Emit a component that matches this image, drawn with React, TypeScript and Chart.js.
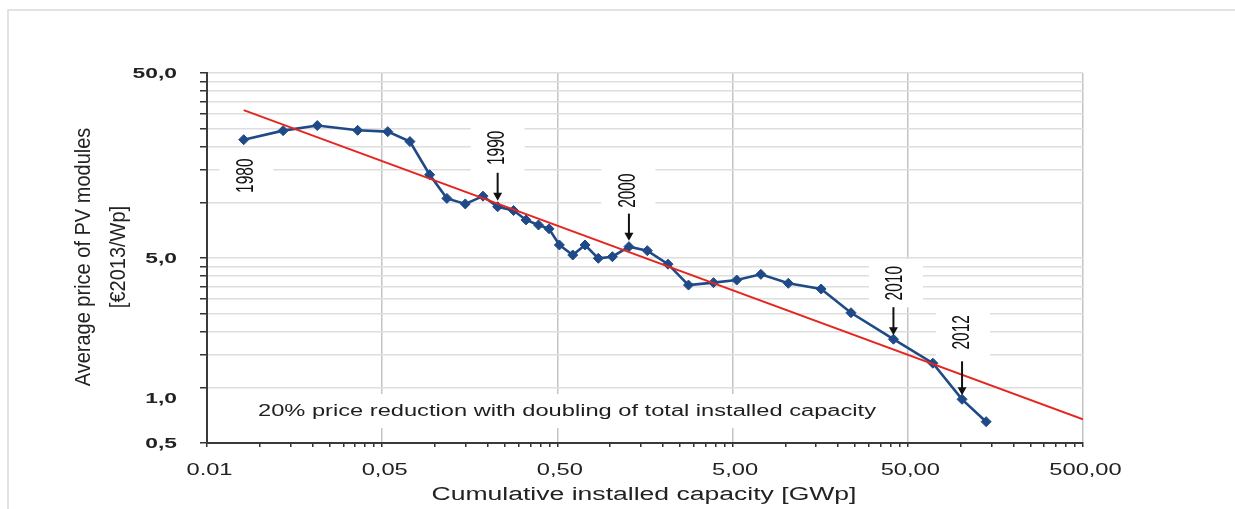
import React, { useEffect, useRef } from "react";
import { Chart, registerables } from "chart.js";

Chart.register(...registerables);

// ---------- data ----------
const years = [
  1980, 1981, 1982, 1983, 1984, 1985, 1986, 1987, 1988, 1989,
  1990, 1991, 1992, 1993, 1994, 1995, 1996, 1997, 1998, 1999,
  2000, 2001, 2002, 2003, 2004, 2005, 2006, 2007, 2008, 2009,
  2010, 2011, 2012, 2013,
];
// cumulative installed capacity [GWp]
const capacity = [
  0.0081, 0.0136, 0.0213, 0.0362, 0.0538, 0.072, 0.0933, 0.117, 0.149, 0.188,
  0.228, 0.281, 0.331, 0.39, 0.448, 0.513, 0.612, 0.719, 0.856, 1.03,
  1.28, 1.63, 2.14, 2.8, 3.89, 5.28, 7.25, 10.4, 16.0, 23.7,
  41.4, 69.5, 102, 140,
];
// average price of PV modules [€2013/Wp]
const price = [
  21.8, 24.4, 26.0, 24.5, 24.1, 21.3, 14.1, 10.5, 9.8, 10.8,
  9.46, 9.03, 8.03, 7.54, 7.19, 5.88, 5.19, 5.88, 4.98, 5.08,
  5.76, 5.48, 4.63, 3.57, 3.68, 3.8, 4.08, 3.65, 3.4, 2.53,
  1.82, 1.35, 0.861, 0.652,
];
// learning-curve trend line (end points)
const trendX = [0.0081, 500];
const trendY = [31.5, 0.672];

// axis ticks
const xGridValues = [0.005, 0.05, 0.5, 5, 50, 500];
const xTickLabels = ["0.01", "0,05", "0,50", "5,00", "50,00", "500,00"];
const yTickValues = [0.5, 1, 5, 50];
const yTickLabels = ["0,5", "1,0", "5,0", "50,0"];

const xMinorValues: number[] = [];
for (const d of [0.005, 0.05, 0.5, 5, 50]) {
  for (let k = 1; k <= 9; k++) xMinorValues.push(+(d * k).toPrecision(6));
}
xMinorValues.push(500);
const yMinorValues: number[] = [];
for (const d of [0.5, 5]) {
  for (let k = 1; k <= 9; k++) yMinorValues.push(+(d * k).toPrecision(6));
}
yMinorValues.push(50);

const xTitle = "Cumulative installed capacity [GWp]";
const yTitle = ["Average price of PV modules", "[€2013/Wp]"];
const noteText = "20% price reduction with doubling of total installed capacity";

// year annotations: label offset (px) relative to the data point, arrow span
const yearNotes = [
  { year: 1980, dx: 2.5, dy: 36, arrow: null as null | [number, number] },
  { year: 1990, dx: 0, dy: -59, arrow: [-34, -6] as [number, number] },
  { year: 2000, dx: -0.5, dy: -56, arrow: [-33, -6] as [number, number] },
  { year: 2010, dx: 2.5, dy: -56, arrow: [-32, -4] as [number, number] },
  { year: 2012, dx: 1, dy: -67, arrow: [-38, -4] as [number, number] },
];

const FONT = "'Liberation Sans', Arial, sans-serif";

function drawText(
  ctx: CanvasRenderingContext2D,
  text: string,
  x: number,
  y: number,
  o: {
    size: number;
    weight?: string;
    sx?: number;
    fit?: number;
    rotate?: boolean;
    align?: CanvasTextAlign;
    baseline?: CanvasTextBaseline;
    color?: string;
  }
) {
  ctx.save();
  ctx.font = `${o.weight || "normal"} ${o.size}px ${FONT}`;
  let s = o.sx || 1;
  if (o.fit) s = o.fit / ctx.measureText(text).width;
  ctx.translate(x, y);
  ctx.scale(s, 1);
  if (o.rotate) ctx.rotate(-Math.PI / 2);
  ctx.textAlign = o.align || "center";
  ctx.textBaseline = o.baseline || "alphabetic";
  ctx.fillStyle = o.color || "#222";
  ctx.fillText(text, 0, 0);
  ctx.restore();
}

function isDecade(v: number) {
  const r = Math.log10(v / 0.005);
  return Math.abs(r - Math.round(r)) < 1e-6;
}

const YEAR_FONT = 15.5;

const decoPlugin = {
  id: "deco",
  beforeDraw(chart: any) {
    const ctx: CanvasRenderingContext2D = chart.ctx;
    ctx.save();
    ctx.fillStyle = "#ffffff";
    ctx.fillRect(0, 0, chart.width, chart.height);
    ctx.strokeStyle = "#dadada";
    ctx.lineWidth = 1.5;
    ctx.strokeRect(8, 10, chart.width + 20, chart.height + 20);
    ctx.restore();
  },
  beforeDatasetsDraw(chart: any) {
    const ctx: CanvasRenderingContext2D = chart.ctx;
    const xs = chart.scales.x;
    const ys = chart.scales.y;
    ctx.save();
    ctx.fillStyle = "#ffffff";
    ctx.font = `normal ${YEAR_FONT}px ${FONT}`;
    for (const n of yearNotes) {
      const i = years.indexOf(n.year);
      const px = xs.getPixelForValue(capacity[i]) + n.dx;
      const py = ys.getPixelForValue(price[i]) + n.dy;
      const len = ctx.measureText(String(n.year)).width;
      ctx.fillRect(px - 27, py - len / 2 - 7, 54, len + 14);
    }
    // note box
    ctx.fillRect(250, 394, 636, 34);
    ctx.restore();
  },
  afterDatasetsDraw(chart: any) {
    const ctx: CanvasRenderingContext2D = chart.ctx;
    const xs = chart.scales.x;
    const ys = chart.scales.y;
    // year labels and arrows
    for (const n of yearNotes) {
      const i = years.indexOf(n.year);
      const x0 = xs.getPixelForValue(capacity[i]);
      const y0 = ys.getPixelForValue(price[i]);
      drawText(ctx, String(n.year), x0 + n.dx, y0 + n.dy, {
        size: YEAR_FONT,
        sx: 1.5,
        rotate: true,
        baseline: "middle",
        color: "#111",
      });
      if (n.arrow) {
        ctx.save();
        ctx.strokeStyle = "#111";
        ctx.fillStyle = "#111";
        ctx.lineWidth = 2;
        ctx.beginPath();
        ctx.moveTo(x0, y0 + n.arrow[0]);
        ctx.lineTo(x0, y0 + n.arrow[1] - 5);
        ctx.stroke();
        ctx.beginPath();
        ctx.moveTo(x0 - 4.5, y0 + n.arrow[1] - 8);
        ctx.lineTo(x0 + 4.5, y0 + n.arrow[1] - 8);
        ctx.lineTo(x0, y0 + n.arrow[1]);
        ctx.closePath();
        ctx.fill();
        ctx.restore();
      }
    }
    // note
    drawText(ctx, noteText, 567, 415.5, { size: 16, fit: 618, color: "#1e1e1e" });
  },
  afterDraw(chart: any) {
    const ctx: CanvasRenderingContext2D = chart.ctx;
    const xs = chart.scales.x;
    const ys = chart.scales.y;
    const area = chart.chartArea;
    // x tick labels
    xGridValues.forEach((v, i) => {
      drawText(ctx, xTickLabels[i], xs.getPixelForValue(v) + 2.5, area.bottom + 32, {
        size: 16,
        sx: 1.48,
        color: "#222",
      });
    });
    // y tick labels
    yTickValues.forEach((v, i) => {
      const nudge = v === 1 ? 16 : 5;
      drawText(ctx, yTickLabels[i], area.left - 30, ys.getPixelForValue(v) + nudge, {
        size: 15,
        weight: "bold",
        sx: 1.52,
        align: "right",
        color: "#222",
      });
    });
    // axis titles
    drawText(ctx, xTitle, 644, 499.5, { size: 18, fit: 425, color: "#222" });
    drawText(ctx, yTitle[0], 84, 257, {
      size: 20,
      sx: 1.12,
      rotate: true,
      baseline: "middle",
      color: "#222",
    });
    drawText(ctx, yTitle[1], 119, 257, {
      size: 20,
      sx: 1.12,
      rotate: true,
      baseline: "middle",
      color: "#222",
    });
  },
};

export default function App() {
  const canvasRef = useRef<HTMLCanvasElement | null>(null);

  useEffect(() => {
    if (!canvasRef.current) return;
    const chart = new Chart(canvasRef.current, {
      type: "scatter",
      data: {
        datasets: [
          {
            label: "Trend",
            data: trendX.map((x, i) => ({ x, y: trendY[i] })),
            showLine: true,
            borderColor: "#e52620",
            borderWidth: 2,
            pointRadius: 0,
            tension: 0,
          },
          {
            label: "Price",
            data: capacity.map((x, i) => ({ x, y: price[i] })),
            showLine: true,
            borderColor: "#1f4a87",
            backgroundColor: "#1f4a87",
            borderWidth: 2.6,
            pointStyle: "rectRot",
            pointRadius: 5,
            pointBorderWidth: 1,
            tension: 0,
          },
        ],
      },
      options: {
        responsive: false,
        animation: false,
        devicePixelRatio: 1,
        layout: { padding: { left: 199, right: 152, top: 73, bottom: 61 } },
        plugins: {
          legend: { display: false },
          tooltip: { enabled: false },
          title: { display: false },
        },
        scales: {
          x: {
            type: "logarithmic",
            min: 0.005,
            max: 500,
            afterBuildTicks: (scale: any) => {
              scale.ticks = xMinorValues.map((v) => ({ value: v }));
            },
            afterFit: (scale: any) => {
              scale.height = 5;
            },
            ticks: { display: false, autoSkip: false },
            grid: {
              color: (c: any) =>
                c.tick && isDecade(c.tick.value) ? "#c4c4c4" : "rgba(0,0,0,0)",
              lineWidth: 1.5,
              tickColor: "#333",
              tickLength: 4,
              drawTicks: true,
            },
            border: { display: true, color: "#3a3a3a", width: 2 },
          },
          y: {
            type: "logarithmic",
            min: 0.5,
            max: 50,
            afterBuildTicks: (scale: any) => {
              scale.ticks = yMinorValues.map((v) => ({ value: v }));
            },
            afterFit: (scale: any) => {
              scale.width = 8;
            },
            ticks: { display: false, autoSkip: false },
            grid: {
              color: "#dedede",
              lineWidth: 1.5,
              tickColor: "#333",
              tickLength: 7,
              drawTicks: true,
            },
            border: { display: true, color: "#3a3a3a", width: 2 },
          },
        },
      },
      plugins: [decoPlugin],
    } as any);
    return () => chart.destroy();
  }, []);

  return (
    <div style={{ position: "absolute", left: 0, top: 0, width: 1235, height: 509 }}>
      <canvas ref={canvasRef} width={1235} height={509} />
    </div>
  );
}
